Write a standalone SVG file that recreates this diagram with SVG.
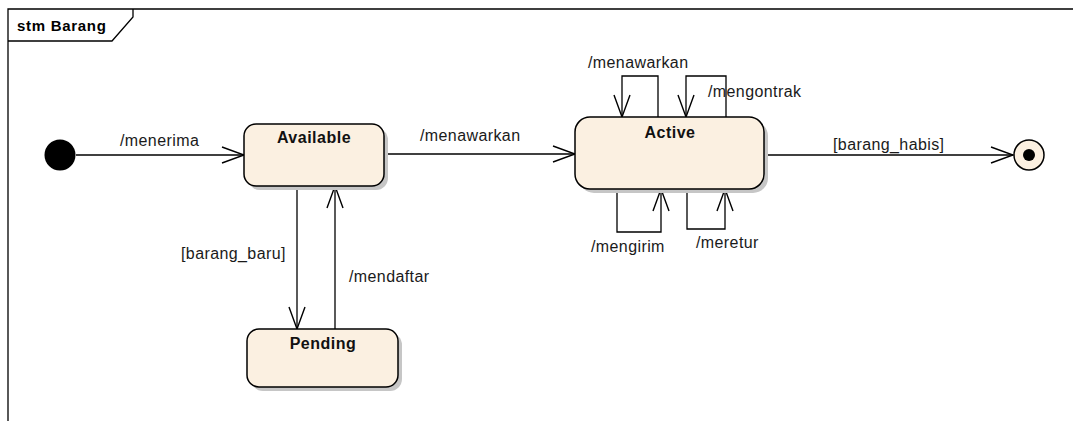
<svg xmlns="http://www.w3.org/2000/svg" width="1073" height="421" viewBox="0 0 1073 421">
  <defs>
    <marker id="open-arrow" markerUnits="userSpaceOnUse" markerWidth="30" markerHeight="24" viewBox="-24 -12 30 24" refX="0" refY="0" orient="auto">
      <path d="M -22 -8 L 0 0 L -22 8" fill="none" stroke="#000" stroke-width="1.4"/>
    </marker>
  </defs>
  <style>
    .frame { fill: none; stroke: #000; stroke-width: 1.3; }
    .title { font-family: "Liberation Sans", Arial, sans-serif; font-size: 15px; font-weight: bold; letter-spacing: 0.7px; fill: #000; }
    .state { fill: #FBF0E1; stroke: #000; stroke-width: 1.5; }
    .shadow { fill: #c6c6c6; }
    .name { font-family: "Liberation Sans", Arial, sans-serif; font-size: 16px; font-weight: bold; letter-spacing: 0.5px; fill: #111; text-anchor: middle; }
    .edge { fill: none; stroke: #000; stroke-width: 1.3; marker-end: url(#open-arrow); }
    .label { font-family: "Liberation Sans", Arial, sans-serif; font-size: 16px; letter-spacing: 0.4px; fill: #1a1a1a; }
  </style>

  <rect width="1073" height="421" fill="#fff"/>

  <!-- diagram frame with name tab -->
  <g id="frame">
    <path class="frame" d="M 8 421 V 9 H 1073"/>
    <path class="frame" d="M 8 41 H 112 L 133 17 V 9"/>
    <text class="title" x="17" y="31">stm Barang</text>
  </g>

  <!-- transitions -->
  <g id="connectors">
    <path class="edge" d="M 76 155 H 244"/>
    <text class="label" x="120" y="146">/menerima</text>

    <path class="edge" d="M 384 154 H 575"/>
    <text class="label" x="420" y="141">/menawarkan</text>

    <path class="edge" d="M 297 186 V 329"/>
    <text class="label" x="181" y="259">[barang_baru]</text>

    <path class="edge" d="M 335 329 V 186"/>
    <text class="label" x="349" y="282">/mendaftar</text>

    <path class="edge" d="M 658 117 V 76 H 622 V 117"/>
    <text class="label" x="588" y="68">/menawarkan</text>

    <path class="edge" d="M 726 117 V 76 H 686 V 117"/>
    <text class="label" x="708" y="97">/mengontrak</text>

    <path class="edge" d="M 617 189 V 232 H 661 V 189"/>
    <text class="label" x="591" y="252">/mengirim</text>

    <path class="edge" d="M 687 189 V 229 H 725 V 189"/>
    <text class="label" x="696" y="248">/meretur</text>

    <path class="edge" d="M 764 155 H 1013"/>
    <text class="label" x="833" y="150">[barang_habis]</text>
  </g>

  <!-- initial pseudo-state -->
  <g id="initial">
    <circle cx="60" cy="155" r="15.5" fill="#000"/>
  </g>

  <g id="available">
    <rect class="shadow" x="248" y="128" width="140" height="62" rx="12"/>
    <rect class="state" x="244" y="124" width="140" height="62" rx="12"/>
    <text class="name" x="314" y="143">Available</text>
  </g>

  <g id="pending">
    <rect class="shadow" x="251" y="333" width="151" height="58" rx="12"/>
    <rect class="state" x="247" y="329" width="151" height="58" rx="12"/>
    <text class="name" x="323" y="349">Pending</text>
  </g>

  <g id="active">
    <rect class="shadow" x="579" y="121" width="189" height="72" rx="15"/>
    <rect class="state" x="575" y="117" width="189" height="72" rx="15"/>
    <text class="name" x="670" y="138">Active</text>
  </g>

  <!-- final state -->
  <g id="final">
    <circle cx="1029" cy="155" r="15" fill="#FBF0E1" stroke="#000" stroke-width="1.5"/>
    <circle cx="1029" cy="155" r="6" fill="#000"/>
  </g>
</svg>
